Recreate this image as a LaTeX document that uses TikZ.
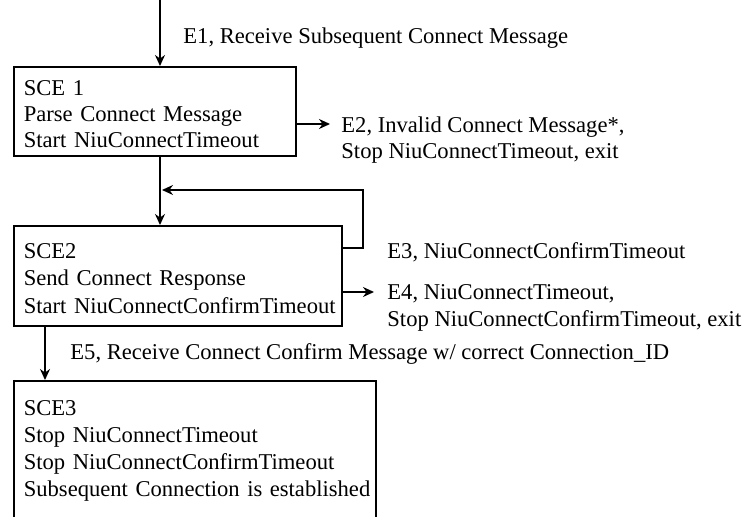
\documentclass[tikz,border=0pt]{standalone}
\usepackage{fontspec}
\setmainfont{Liberation Serif}
\usepackage{tikz}
\usetikzlibrary{arrows.meta, positioning, calc}
\tikzset{
  state/.style={rectangle, draw=black, line width=0.8pt, anchor=north west,
    align=left, inner xsep=5pt, inner ysep=0pt,
    font=\fontsize{11.3}{13.4}\selectfont},
  evlabel/.style={anchor=west, align=left, inner sep=0pt,
    font=\fontsize{11.3}{13.1}\selectfont},
  arrow/.style={-{Stealth[length=5.5pt, width=5pt]}, line width=0.8pt},
  line/.style={line width=0.8pt}
}

\begin{document}
\begin{tikzpicture}[x=0.5pt, y=-0.5pt]
  % frame of the page (box SCE3 runs off the bottom)
  \path[use as bounding box, clip] (0,0) rectangle (744,517);

  % States
  \node[state, text width=131pt, minimum height=44.5pt,
    font=\fontsize{11.3}{13}\selectfont] (sce1) at (13,66)
    {\rule{0pt}{10pt}SCE 1\\Parse Connect Message\\\mbox{Start NiuConnectTimeout}};
  \node[state, text width=154pt, minimum height=50pt,
    font=\fontsize{11.3}{13.7}\selectfont] (sce2) at (13,225)
    {\rule{0pt}{10pt}SCE2\\Send Connect Response\\\mbox{Start NiuConnectConfirmTimeout}};
  \node[state, text width=171pt, minimum height=70pt] (sce3) at (13,380)
    {SCE3\\Stop NiuConnectTimeout\\Stop NiuConnectConfirmTimeout\\\mbox{Subsequent Connection is established}};

  % Free ends
  \coordinate (start) at (160,0);
  \coordinate (exit2) at (330,124);
  \coordinate (ret) at (363,190);
  \coordinate (exit4) at (374,292);

  % Transitions
  \draw[arrow] (start) -- (start |- sce1.north);
  \draw[arrow] (start |- sce1.south) -- (start |- sce2.north);
  \draw[arrow] (exit2 -| sce1.east) -- (exit2);
  \draw[arrow] ([yshift=14pt]sce2.east) -| (ret) -- ($(ret -| start)+(2,0)$);
  \draw[arrow] (exit4 -| sce2.east) -- (exit4);
  \draw[arrow] ([xshift=16pt]sce2.south west) -- ([xshift=16pt]sce3.north west);

  % Event labels
  \node[evlabel] (e1) at (183,38) {E1, Receive Subsequent Connect Message};
  \node[evlabel] (e2) at (341,140) {E2, Invalid Connect Message*,\\Stop NiuConnectTimeout, exit};
  \node[evlabel] (e3) at (387,252) {E3, NiuConnectConfirmTimeout};
  \node[evlabel] (e4) at (387,308) {E4, NiuConnectTimeout,\\Stop NiuConnectConfirmTimeout, exit};
  \node[evlabel] (e5) at (70,354) {E5, Receive Connect Confirm Message w/ correct Connection\_ID};
\end{tikzpicture}
\end{document}
